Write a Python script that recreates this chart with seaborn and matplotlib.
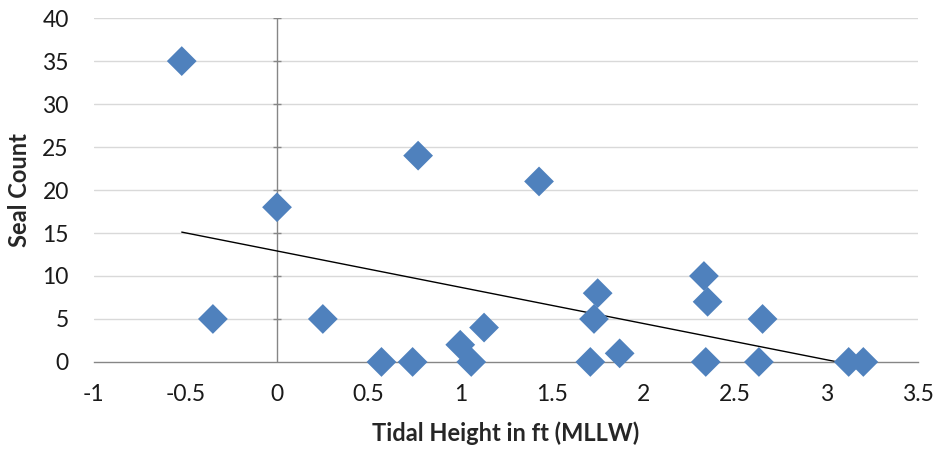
import matplotlib
matplotlib.use("Agg")
import matplotlib.pyplot as plt
import numpy as np
import pandas as pd
import seaborn as sns

# tidal height (ft, MLLW) and seal counts
tide = [-0.52, -0.35, 0.0, 0.25, 0.57, 0.74, 0.77, 1.0, 1.06, 1.13, 1.43,
        1.71, 1.73, 1.75, 1.87, 2.33, 2.34, 2.35, 2.63, 2.65, 3.12, 3.2]
seals = [35, 5, 18, 5, 0, 0, 24, 2, 0, 4, 21,
         0, 5, 8, 1, 10, 0, 7, 0, 5, 0, 0]
xticks = [-1, -0.5, 0, 0.5, 1, 1.5, 2, 2.5, 3, 3.5]
yticks = [0, 5, 10, 15, 20, 25, 30, 35, 40]

df = pd.DataFrame({'tide': tide, 'seals': seals})

sns.set_style('white')
plt.rcParams['font.family'] = ['Lato', 'DejaVu Sans']

fig, ax = plt.subplots(figsize=(9.38, 4.53), dpi=100)
fig.subplots_adjust(left=0.100, right=0.979, top=0.960, bottom=0.201)

axis_grey = '#868686'

# gridlines
for y in yticks[1:]:
    ax.axhline(y, color='#D9D9D9', lw=1, zorder=0)

# vertical axis crossing at x=0 with its little tick marks
ax.axvline(0, color=axis_grey, lw=1, zorder=1)
ax.scatter([0] * len(yticks[1:]), yticks[1:], marker='_', s=35,
           color=axis_grey, lw=1, zorder=1)

sns.regplot(data=df, x='tide', y='seals', scatter=False, ci=None,
            truncate=True, color='black', line_kws={'lw': 1}, ax=ax)
sns.scatterplot(data=df, x='tide', y='seals', marker='D', s=230,
                color='#4F81BD', edgecolor='none', clip_on=False,
                zorder=3, ax=ax)

ax.set_xlim(-1, 3.5)
ax.set_ylim(0, 40)
ax.set_xticks(xticks)
ax.set_xticklabels(['%g' % t for t in xticks])
ax.set_yticks(yticks)

for s in ['left', 'right', 'top']:
    ax.spines[s].set_visible(False)
ax.spines['bottom'].set_color(axis_grey)
ax.spines['bottom'].set_linewidth(1)

ax.tick_params(axis='x', direction='out', length=7, width=1,
               color=axis_grey, labelsize=16.5, pad=9, labelcolor='#1a1a1a')
ax.tick_params(axis='y', length=0, labelsize=16.5, pad=18, labelcolor='#1a1a1a')

ax.set_xlabel('Tidal Height in ft (MLLW)', fontsize=17, fontweight='bold',
              labelpad=12)
ax.set_ylabel('Seal Count', fontsize=17, fontweight='bold', labelpad=8)

fig.savefig('out.png', dpi=100)
